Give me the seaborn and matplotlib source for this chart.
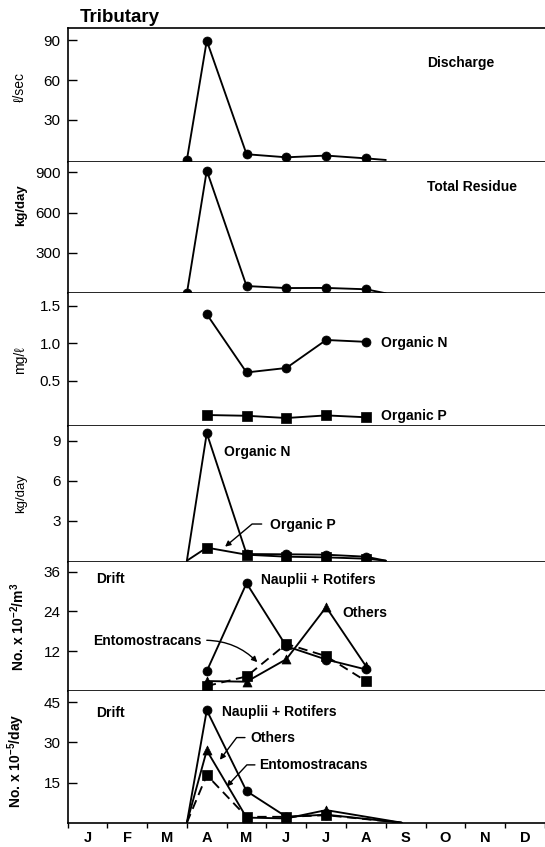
import numpy as np
import pandas as pd
import matplotlib
matplotlib.use("Agg")
import matplotlib.pyplot as plt
import seaborn as sns

# ---------------- data ----------------
months = ['J', 'F', 'M', 'A', 'M', 'J', 'J', 'A', 'S', 'O', 'N', 'D']

# sampling months (A..A) as month index, plus zero edge points
samp_x = [3, 4, 5, 6, 7]
edge_start = 2.5
edge_end = 7.5
edge_end_drift = 7.9

discharge = [89.5, 4.3, 2.0, 3.3, 1.2]            # l/sec
total_residue = [913, 54, 39, 40, 30]             # kg/day
orgN_conc = [1.39, 0.61, 0.67, 1.045, 1.02]       # mg/l
orgP_conc = [0.04, 0.03, 0.0, 0.035, 0.01]        # mg/l
orgN_load = [9.56, 0.5, 0.48, 0.45, 0.3]          # kg/day
orgP_load = [0.98, 0.45, 0.3, 0.25, 0.15]         # kg/day

drift_m3_naup = [6.0, 32.5, 13.5, 9.5, 6.5]
drift_m3_others = [3.0, 2.8, 9.6, 25.3, 7.5]
drift_m3_ento = [1.5, 4.4, 14.2, 10.5, 3.0]

drift_day_naup = [42.0, 11.8, 2.2, 3.0]
drift_day_others = [27.0, 1.9, 1.6, 4.7]
drift_day_ento = [17.8, 2.2, 2.2, 2.8]
drift_day_x = [3, 4, 5, 6]

# ---------------- style ----------------
sns.set_theme(style="white")
plt.rcParams['font.family'] = ['Liberation Sans', 'DejaVu Sans']
plt.rcParams['mathtext.fontset'] = 'custom'
plt.rcParams['mathtext.rm'] = 'Liberation Sans:bold'
plt.rcParams['mathtext.it'] = 'Liberation Sans:bold'
plt.rcParams['axes.linewidth'] = 1.2
plt.rcParams['axes.edgecolor'] = 'black'

W, H = 545, 847
fig = plt.figure(figsize=(W / 100, H / 100), dpi=100)
fig.patch.set_facecolor('white')

bounds = [28.3, 161.7, 293.3, 426, 561.7, 691, 822.7]
left_px = 67.5
axes = []
for i in range(6):
    top, bot = bounds[i], bounds[i + 1]
    rect = [left_px / W, 1 - bot / H, 1 - left_px / W, (bot - top) / H]
    ax = fig.add_axes(rect, sharex=axes[0] if axes else None)
    axes.append(ax)

LW = 1.35
MS = 42


def series(ax, xs, ys, marker=None, mxs=None, mys=None, ls='-'):
    df = pd.DataFrame({'x': xs, 'y': ys})
    sns.lineplot(data=df, x='x', y='y', ax=ax, color='black', lw=LW,
                 sort=False, estimator=None, linestyle=ls, zorder=2)
    if marker is not None:
        dm = pd.DataFrame({'x': mxs, 'y': mys})
        sns.scatterplot(data=dm, x='x', y='y', ax=ax, marker=marker, s=MS,
                        color='black', edgecolor='black', linewidth=0.5,
                        zorder=3)


# Panel 1: discharge
ax = axes[0]
series(ax, [edge_start] + samp_x + [edge_end], [0] + discharge + [0],
       'o', [edge_start] + samp_x, [0] + discharge)
ax.set_ylim(-1.3, 98.8)
ax.set_yticks([30, 60, 90])

# Panel 2: total residue
ax = axes[1]
series(ax, [edge_start] + samp_x + [edge_end], [0] + total_residue + [0],
       'o', [edge_start] + samp_x, [0] + total_residue)
ax.set_ylim(0, 979)
ax.set_yticks([300, 600, 900])

# Panel 3: concentrations
ax = axes[2]
series(ax, samp_x, orgN_conc, 'o', samp_x, orgN_conc)
series(ax, samp_x, orgP_conc, 's', samp_x, orgP_conc)
ax.set_ylim(-0.107, 1.67)
ax.set_yticks([0.5, 1.0, 1.5])
ax.set_yticklabels(['0.5', '1.0', '1.5'])

# Panel 4: loads
ax = axes[3]
series(ax, [edge_start] + samp_x + [edge_end], [0] + orgP_load + [0],
       's', samp_x, orgP_load)
series(ax, [edge_start] + samp_x + [edge_end], [0] + orgN_load + [0],
       'o', samp_x, orgN_load)
ax.set_ylim(-0.075, 10.1)
ax.set_yticks([3, 6, 9])

# Panel 5: drift per m3
ax = axes[4]
series(ax, samp_x, drift_m3_ento, 's', samp_x, drift_m3_ento, ls=(0, (5, 3)))
series(ax, samp_x, drift_m3_others, '^', samp_x, drift_m3_others)
series(ax, samp_x, drift_m3_naup, 'o', samp_x, drift_m3_naup)
ax.set_ylim(0, 39)
ax.set_yticks([12, 24, 36])

# Panel 6: drift per day
ax = axes[5]
dx = [edge_start] + drift_day_x + [edge_end_drift]
series(ax, dx, [0] + drift_day_ento + [0], 's', drift_day_x, drift_day_ento,
       ls=(0, (5, 3)))
series(ax, dx, [0] + drift_day_others + [0], '^', drift_day_x, drift_day_others)
series(ax, dx, [0] + drift_day_naup + [0], 'o', drift_day_x, drift_day_naup)
ax.set_ylim(0, 49.2)
ax.set_yticks([15, 30, 45])

# ---------------- axes styling ----------------
ylabels = ['ℓ/sec', 'kg/day', 'mg/ℓ', 'kg/day',
           r'No. x 10$^{-2}$/m$^{3}$', r'No. x 10$^{-5}$/day']
ylab_w = ['normal', 'bold', 'normal', 'normal', 'bold', 'bold']
ylab_s = [10, 9.5, 10, 9.5, 10, 10]
ylab_y = [0.56, 0.67, 0.5, 0.5, 0.5, 0.47]

for i, ax in enumerate(axes):
    ax.set_xlim(-0.5, 11.5)
    ax.set_xlabel('')
    ax.set_ylabel(ylabels[i], fontsize=ylab_s[i], fontweight=ylab_w[i],
                  color='black')
    ax.yaxis.set_label_coords((27 - left_px) / (W - left_px), ylab_y[i])
    ax.spines['right'].set_visible(False)
    ax.spines['top'].set_visible(i == 0)
    ax.tick_params(axis='y', direction='in', length=6.5, width=1.0,
                   labelsize=11, pad=5, colors='black', left=True)
    ax.grid(False)
    ax.set_facecolor('white')

axes[0].set_xticks(range(12))
axes[0].set_xticks(np.arange(-0.5, 12, 1), minor=True)
for i, ax in enumerate(axes):
    if i < 5:
        ax.tick_params(axis='x', which='both', length=0, labelbottom=False,
                       bottom=False)
axes[5].set_xticklabels(months, fontweight='bold', fontsize=10.5)
axes[5].tick_params(axis='x', which='major', length=0, pad=6,
                    labelbottom=True, colors='black')
axes[5].tick_params(axis='x', which='minor', direction='out', length=3.5,
                    width=1.0, bottom=True, colors='black')

# ---------------- text ----------------
TB = dict(fontsize=10, fontweight='bold', ha='left', va='center',
          color='black')
axes[0].text(8.53, 73, 'Discharge', **TB)
axes[1].text(8.53, 791, 'Total Residue', **TB)
axes[2].text(7.37, 1.0, 'Organic N', **TB)
axes[2].text(7.39, 0.027, 'Organic P', **TB)
axes[3].text(3.44, 8.18, 'Organic N', **TB)
axes[3].text(4.6, 2.68, 'Organic P', **TB)
axes[4].text(0.21, 33.8, 'Drift', **TB)
axes[4].text(4.36, 33.5, 'Nauplii + Rotifers', **TB)
axes[4].text(6.41, 23.6, 'Others', **TB)
axes[4].text(0.15, 15.0, 'Entomostracans', **TB)
axes[5].text(0.21, 41.1, 'Drift', **TB)
axes[5].text(3.38, 41.5, 'Nauplii + Rotifers', **TB)
axes[5].text(4.09, 31.8, 'Others', **TB)
axes[5].text(4.32, 21.6, 'Entomostracans', **TB)

AP = dict(arrowstyle='-|>', color='black', lw=1.0, mutation_scale=8,
          shrinkA=0, shrinkB=0)
axes[3].annotate('', xy=(3.46, 1.05), xytext=(4.38, 2.75),
                 arrowprops=dict(AP, connectionstyle='angle,angleA=0,angleB=40,rad=0'))
axes[4].annotate('', xy=(4.27, 8.7), xytext=(3.0, 15.3),
                 arrowprops=dict(AP, connectionstyle='arc3,rad=-0.2'))
axes[5].annotate('', xy=(3.33, 23.5), xytext=(3.96, 31.8),
                 arrowprops=dict(AP, connectionstyle='angle,angleA=0,angleB=53,rad=0'))
axes[5].annotate('', xy=(3.5, 13.5), xytext=(4.21, 21.6),
                 arrowprops=dict(AP, connectionstyle='angle,angleA=0,angleB=47,rad=0'))

fig.text(80 / W, 1 - 22.5 / H, 'Tributary', fontsize=13.5, fontweight='bold',
         ha='left', va='baseline', color='black')

fig.savefig('out.png', dpi=100, facecolor='white')
